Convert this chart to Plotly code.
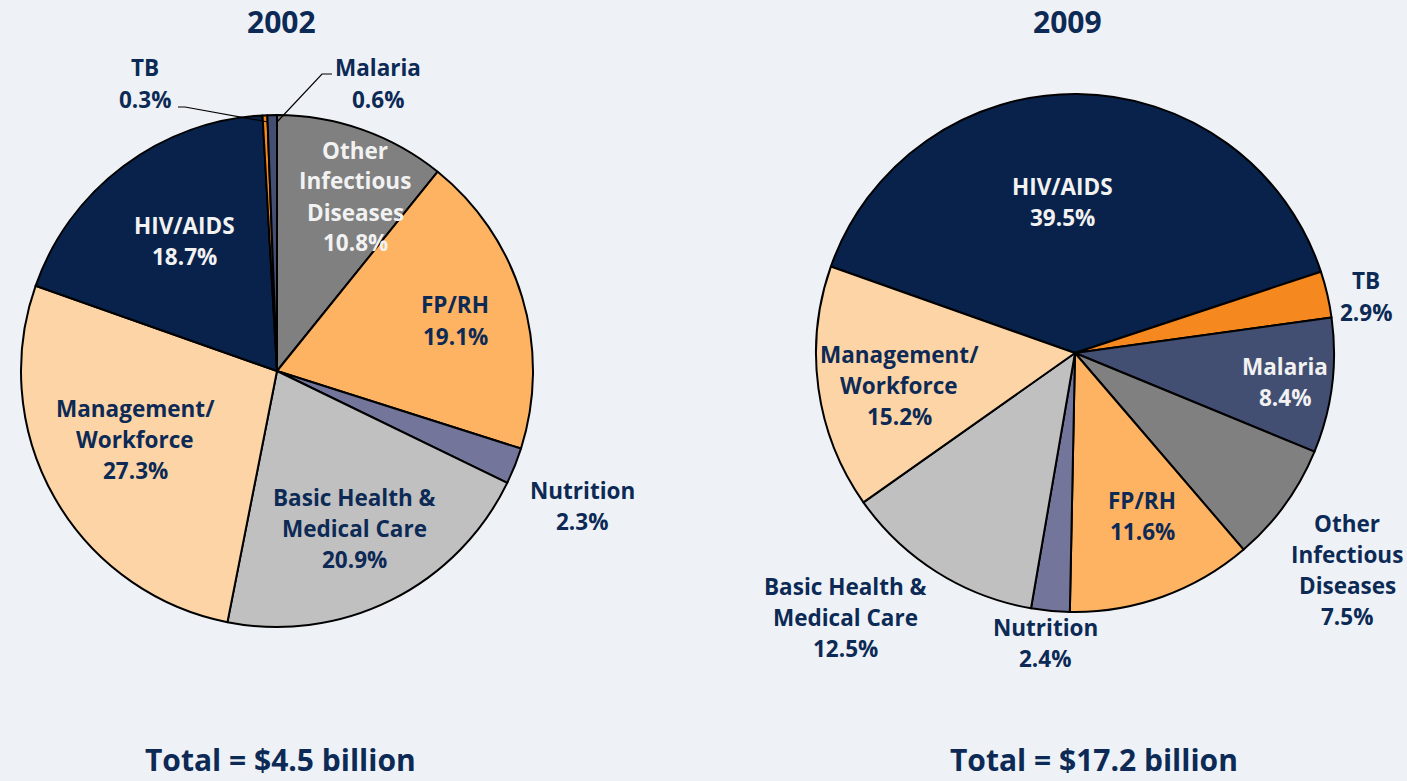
import plotly.graph_objects as go

W, H = 1407, 781

# ---- data ----
labels_2002 = ["Other Infectious Diseases", "FP/RH", "Nutrition", "Basic Health & Medical Care",
               "Management/Workforce", "HIV/AIDS", "TB", "Malaria"]
values_2002 = [10.8, 19.1, 2.3, 20.9, 27.3, 18.7, 0.3, 0.6]

labels_2009 = ["HIV/AIDS", "TB", "Malaria", "Other Infectious Diseases", "FP/RH",
               "Nutrition", "Basic Health & Medical Care", "Management/Workforce"]
values_2009 = [39.5, 2.9, 8.4, 7.5, 11.6, 2.4, 12.5, 15.2]

titles = ["2002", "2009"]
totals = ["Total = $4.5 billion", "Total = $17.2 billion"]

# label line-breaks for display
label_lines = {
    "Other Infectious Diseases": ["Other", "Infectious", "Diseases"],
    "FP/RH": ["FP/RH"],
    "Nutrition": ["Nutrition"],
    "Basic Health & Medical Care": ["Basic Health &", "Medical Care"],
    "Management/Workforce": ["Management/", "Workforce"],
    "HIV/AIDS": ["HIV/AIDS"],
    "TB": ["TB"],
    "Malaria": ["Malaria"],
}

colors = {
    "HIV/AIDS": "#08224B",
    "TB": "#F5891F",
    "Malaria": "#434F72",
    "Other Infectious Diseases": "#808080",
    "FP/RH": "#FDB362",
    "Nutrition": "#73769A",
    "Basic Health & Medical Care": "#C0C0C0",
    "Management/Workforce": "#FDD4A5",
}

NAVY = "#0C2A55"
WHITE = "#F2F2F2"
BG = "#EEF2F6"
FONT = "Open Sans"

def px_x(x):
    return x / W

def px_y(y):
    return 1 - y / H

def domain(cx, cy, r):
    return dict(x=[px_x(cx - r), px_x(cx + r)], y=[px_y(cy + r), px_y(cy - r)])

fig = go.Figure()

fig.add_trace(go.Pie(
    labels=labels_2002, values=values_2002, sort=False, direction="clockwise", rotation=0,
    marker=dict(colors=[colors[l] for l in labels_2002], line=dict(color="black", width=2)),
    textinfo="none", hovertemplate="%{label}: %{value}%<extra>2002</extra>",
    domain=domain(277, 371, 256), showlegend=False,
))
fig.add_trace(go.Pie(
    labels=labels_2009, values=values_2009, sort=False, direction="clockwise", rotation=-70.5,
    marker=dict(colors=[colors[l] for l in labels_2009], line=dict(color="black", width=2)),
    textinfo="none", hovertemplate="%{label}: %{value}%<extra>2009</extra>",
    domain=domain(1075, 353, 259), showlegend=False,
))

# label placements (pixel centres of first line) and text colour
pos_2002 = {
    "Other Infectious Diseases": (355, 150, WHITE),
    "FP/RH": (455, 305, NAVY),
    "Nutrition": (582, 490, NAVY),
    "Basic Health & Medical Care": (354, 497, NAVY),
    "Management/Workforce": (135, 408, NAVY),
    "HIV/AIDS": (184, 225, WHITE),
    "TB": (145, 68, NAVY),
    "Malaria": (378, 68, NAVY),
}
pos_2009 = {
    "HIV/AIDS": (1062, 186, WHITE),
    "TB": (1366, 281, NAVY),
    "Malaria": (1285, 366, WHITE),
    "Other Infectious Diseases": (1347, 523, NAVY),
    "FP/RH": (1142, 500, NAVY),
    "Nutrition": (1045, 627, NAVY),
    "Basic Health & Medical Care": (845, 586, NAVY),
    "Management/Workforce": (899, 354, NAVY),
}

LINE_GAP = 31
annotations = []
for labels, values, pos in [(labels_2002, values_2002, pos_2002), (labels_2009, values_2009, pos_2009)]:
    for lab, val in zip(labels, values):
        cx, cy, col = pos[lab]
        lines = label_lines[lab] + [f"{val:.1f}%"]
        for i, line in enumerate(lines):
            annotations.append(dict(
                x=px_x(cx), y=px_y(cy + i * LINE_GAP), xref="paper", yref="paper",
                text=f"<b>{line}</b>", showarrow=False, xanchor="center", yanchor="middle",
                font=dict(family=FONT, size=22.5, color=col),
            ))

for t, cx in zip(titles, [281, 1067]):
    annotations.append(dict(x=px_x(cx), y=px_y(22), xref="paper", yref="paper",
                            text=f"<b>{t}</b>", showarrow=False, xanchor="center", yanchor="middle",
                            font=dict(family=FONT, size=30, color=NAVY)))
for t, cx in zip(totals, [280, 1094]):
    annotations.append(dict(x=px_x(cx), y=px_y(759), xref="paper", yref="paper",
                            text=f"<b>{t}</b>", showarrow=False, xanchor="center", yanchor="middle",
                            font=dict(family=FONT, size=30, color=NAVY)))

# leader lines for the tiny 2002 slices
shapes = [
    dict(type="path", xref="paper", yref="paper",
         path=f"M {px_x(178)} {px_y(107)} L {px_x(185)} {px_y(107)} L {px_x(268)} {px_y(122)}",
         line=dict(color="black", width=1.2)),
    dict(type="path", xref="paper", yref="paper",
         path=f"M {px_x(332)} {px_y(74)} L {px_x(322)} {px_y(74)} L {px_x(277)} {px_y(122)}",
         line=dict(color="black", width=1.2)),
]

fig.update_layout(
    width=W, height=H, margin=dict(l=0, r=0, t=0, b=0),
    paper_bgcolor=BG, plot_bgcolor=BG,
    annotations=annotations, shapes=shapes,
    font=dict(family=FONT, color=NAVY),
)

fig.write_html(
    "out.html",
    config={"displayModeBar": False},
    post_script="document.body.style.margin='0';document.body.style.overflow='hidden';"
                "document.body.style.background='" + BG + "';",
)
